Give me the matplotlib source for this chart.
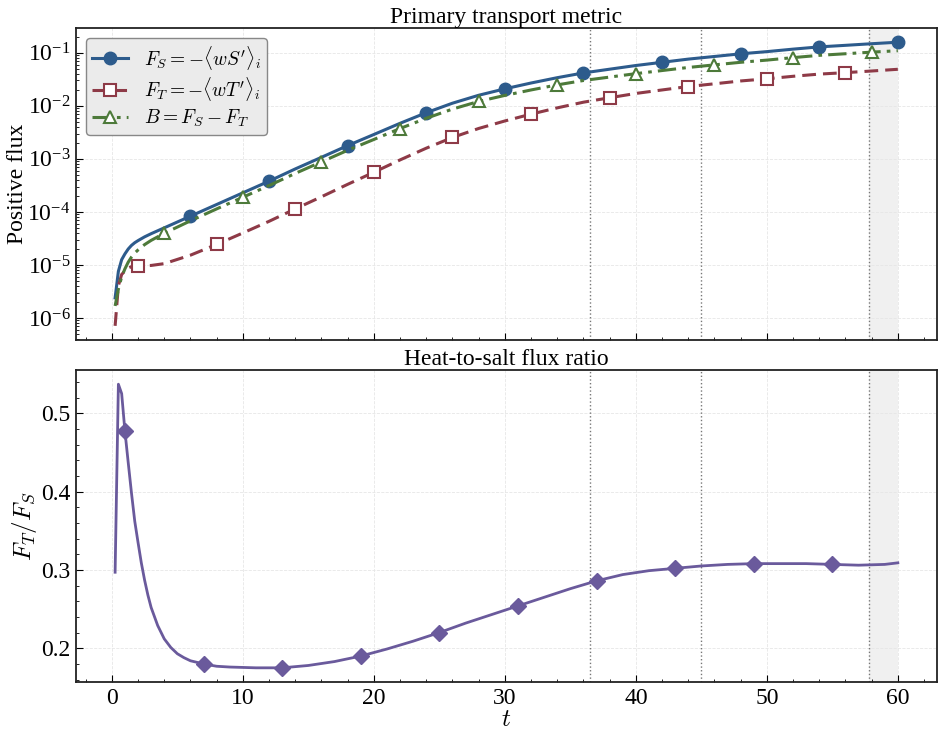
import numpy as np
import matplotlib
matplotlib.use("Agg")
import matplotlib.pyplot as plt

plt.rcParams['font.family'] = ['Liberation Serif', 'DejaVu Serif']
plt.rcParams['mathtext.fontset'] = 'cm'

# ---- data ----
t_top = [0.25, 0.5, 0.75, 1, 1.25, 1.5, 1.75, 2, 2.5, 3, 4, 6, 8, 10, 12, 14, 16, 18,
         20, 22, 24, 26, 28, 30, 32, 34, 36, 38, 40, 42, 44, 46, 48, 50, 52, 54, 56, 58, 60]
F_S = [2.40e-6, 7.59e-6, 1.26e-5, 1.62e-5, 2.00e-5, 2.34e-5, 2.63e-5, 2.88e-5, 3.39e-5,
       3.89e-5, 5.01e-5, 8.32e-5, 1.38e-4, 2.29e-4, 3.80e-4, 6.46e-4, 1.07e-3, 1.78e-3,
       2.88e-3, 4.68e-3, 7.41e-3, 1.12e-2, 1.58e-2, 2.09e-2, 2.69e-2, 3.39e-2, 4.17e-2,
       4.90e-2, 5.75e-2, 6.61e-2, 7.59e-2, 8.51e-2, 9.55e-2, 0.105, 0.117, 0.129, 0.138,
       0.148, 0.158]
F_T = [7.13e-7, 4.08e-6, 6.62e-6, 7.73e-6, 8.74e-6, 9.31e-6, 9.52e-6, 9.65e-6, 9.73e-6,
       9.80e-6, 1.06e-5, 1.53e-5, 2.44e-5, 4.01e-5, 6.65e-5, 1.14e-4, 1.93e-4, 3.31e-4,
       5.59e-4, 9.55e-4, 1.59e-3, 2.53e-3, 3.74e-3, 5.18e-3, 6.97e-3, 9.15e-3, 1.17e-2,
       1.42e-2, 1.71e-2, 1.99e-2, 2.31e-2, 2.60e-2, 2.94e-2, 3.23e-2, 3.60e-2, 3.96e-2,
       4.22e-2, 4.53e-2, 4.88e-2]
B = [1.69e-6, 3.51e-6, 5.98e-6, 8.47e-6, 1.13e-5, 1.41e-5, 1.68e-5, 1.92e-5, 2.42e-5,
     2.91e-5, 3.95e-5, 6.79e-5, 1.14e-4, 1.89e-4, 3.14e-4, 5.32e-4, 8.77e-4, 1.45e-3,
     2.32e-3, 3.73e-3, 5.82e-3, 8.67e-3, 1.21e-2, 1.57e-2, 1.99e-2, 2.48e-2, 3.00e-2,
     3.48e-2, 4.04e-2, 4.62e-2, 5.28e-2, 5.91e-2, 6.61e-2, 7.27e-2, 8.10e-2, 8.94e-2,
     9.58e-2, 0.1027, 0.1092]

t_bot = [0.25, 0.5, 0.75, 1, 1.25, 1.5, 1.75, 2, 2.25, 2.5, 2.75, 3, 3.5, 4, 4.5, 5, 5.5,
         6, 7, 8, 9, 11, 13, 15, 17, 19, 21, 23, 25, 27, 29, 31, 33, 35, 37, 39, 41, 43,
         45, 47, 49, 51, 53, 55, 57, 59, 60]
ratio = [0.297, 0.537, 0.525, 0.477, 0.437, 0.398, 0.362, 0.335, 0.309, 0.287, 0.268,
         0.252, 0.229, 0.212, 0.201, 0.193, 0.188, 0.184, 0.180, 0.177, 0.176, 0.175,
         0.175, 0.178, 0.183, 0.190, 0.199, 0.209, 0.220, 0.232, 0.243, 0.254, 0.265,
         0.276, 0.286, 0.294, 0.299, 0.302, 0.305, 0.307, 0.308, 0.308, 0.308, 0.307,
         0.306, 0.307, 0.309]

# marker times
mk_FS = [6, 12, 18, 24, 30, 36, 42, 48, 54, 60]
mk_FT = [2, 8, 14, 20, 26, 32, 38, 44, 50, 56]
mk_B = [4, 10, 16, 22, 28, 34, 40, 46, 52, 58]
mk_R = [1, 7, 13, 19, 25, 31, 37, 43, 49, 55]

event_times = [36.5, 45.0, 57.8]
shade_span = (57.8, 60.0)

labels = [r"$F_S = -\langle wS'\rangle_i$", r"$F_T = -\langle wT'\rangle_i$", r"$B = F_S - F_T$"]

c_S = '#2d5b8c'
c_T = '#8e3a47'
c_B = '#4d7a3a'
c_R = '#6a5a9c'

def idx(tarr, marks):
    ta = np.asarray(tarr)
    return [int(np.argmin(np.abs(ta - m))) for m in marks]

fig = plt.figure(figsize=(9.45, 7.32), dpi=100)
ax1 = fig.add_axes([0.0804, 0.5355, 0.9111, 0.4262])
ax2 = fig.add_axes([0.0804, 0.0683, 0.9111, 0.4262], sharex=ax1)

for ax in (ax1, ax2):
    ax.grid(True, which='major', ls='--', lw=0.6, color='#e6e6e6')
    ax.set_axisbelow(True)
    for te in event_times:
        ax.axvline(te, color='#777777', ls=':', lw=1.0, zorder=1)
    ax.axvspan(shade_span[0], shade_span[1], color='#f0f0f0', zorder=0, lw=0)
    ax.tick_params(which='both', direction='in', labelsize=17, pad=4)
    ax.tick_params(which='major', length=5)
    ax.tick_params(which='minor', length=2.5)
    ax.minorticks_on()
    for sp in ax.spines.values():
        sp.set_linewidth(1.3)
        sp.set_color('#222222')

ax1.plot(t_top, F_S, color=c_S, lw=2.2, ls='-', marker='o', ms=9,
         markevery=idx(t_top, mk_FS), label=labels[0], zorder=3)
ax1.plot(t_top, F_T, color=c_T, lw=2.2, ls=(0, (4.5, 2.3)), marker='s', ms=8,
         mfc='white', mec=c_T, mew=1.5, markevery=idx(t_top, mk_FT), label=labels[1], zorder=3)
ax1.plot(t_top, B, color=c_B, lw=2.2, ls=(0, (6, 2, 1.2, 2)), marker='^', ms=8.5,
         mfc='white', mec=c_B, mew=1.5, markevery=idx(t_top, mk_B), label=labels[2], zorder=3)
ax1.set_yscale('log')
ax1.set_ylabel('Positive flux', fontsize=17)
ax1.yaxis.set_label_coords(-0.056, 0.5)
ax1.set_title('Primary transport metric', fontsize=17, pad=3)
plt.setp(ax1.get_xticklabels(), visible=False)
leg = ax1.legend(loc='upper left', fontsize=14, frameon=True, fancybox=True,
                 facecolor='#ebebeb', edgecolor='#888888', framealpha=1.0,
                 handlelength=1.9, handletextpad=0.8, borderpad=0.3, labelspacing=0.2)
leg.get_frame().set_linewidth(1.0)

ax2.plot(t_bot, ratio, color=c_R, lw=2.0, marker='D', ms=8.5,
         markevery=idx(t_bot, mk_R), zorder=3)
ax2.set_ylabel(r'$F_T/F_S$', fontsize=18)
ax2.yaxis.set_label_coords(-0.043, 0.5)
ax2.set_xlabel(r'$t$', fontsize=18, labelpad=0)
ax2.set_title('Heat-to-salt flux ratio', fontsize=17, pad=3)
ax2.set_yticks([0.2, 0.3, 0.4, 0.5])

fig.savefig('out.png', dpi=100)
